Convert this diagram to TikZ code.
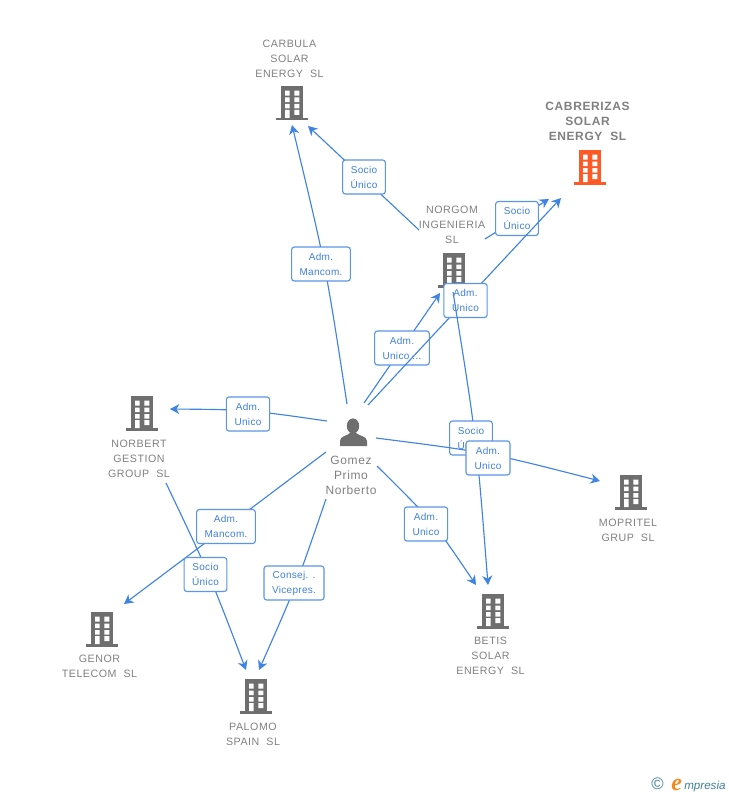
\documentclass[tikz,border=0pt]{standalone}
\usepackage{fontspec}
\setmainfont{Liberation Sans}
\newfontfamily\gl[LetterSpace=5]{Liberation Sans}
\newfontfamily\bl[LetterSpace=3]{Liberation Sans}
\newfontfamily\logoe{Liberation Serif}
\usetikzlibrary{arrows.meta}
\definecolor{linkblue}{HTML}{3F83E3}
\definecolor{boxblue}{HTML}{5A95E6}
\definecolor{txtblue}{HTML}{3F80DC}
\definecolor{graytxt}{HTML}{808080}
\definecolor{bldgray}{HTML}{6E6E6E}
\definecolor{bldorange}{HTML}{FF5A26}
\definecolor{logoteal}{HTML}{3F7F96}
\definecolor{logoorange}{HTML}{F08A1D}
\tikzset{
 x=0.75pt,y=-0.75pt,
 conn/.style={draw=linkblue,line width=0.85pt},
 tip/.style={conn,-{Stealth[length=7pt,width=7.5pt,inset=2.2pt]}},
 relbox/.style={draw=boxblue,line width=0.85pt,rounded corners=2pt,fill=white,
   text=txtblue,font=\bl\fontsize{7.5}{11.25}\selectfont,align=center,
   minimum height=25.5pt,inner sep=0pt},
 nlabel/.style={text=graytxt,font=\gl\fontsize{8}{11.25}\selectfont,align=center,inner sep=0pt},
 bldbody/.style={minimum width=16.5pt,minimum height=25pt,inner sep=0pt},
}
\newcommand{\bld}[4]{%
 \node[bldbody,fill=#4] (#1) at (#2,#3) {};
 \begin{scope}[shift={(#2,#3)}]
  \fill[#4] (-16,15) rectangle (15.5,17.5);
  \fill[white] (-7,-12.3) rectangle (-2.3,-7.3) (2.3,-12.3) rectangle (7.3,-7.3)
   (-7,-5.5) rectangle (-2.3,-0.8) (2.3,-5.5) rectangle (7.3,-0.8)
   (-7,1) rectangle (-2.3,5.5) (2.3,1) rectangle (7.3,5.5)
   (2.3,7) rectangle (7.3,12) (-7,7) rectangle (-2.3,15);
 \end{scope}}
\begin{document}
\begin{tikzpicture}
\useasboundingbox (0,0) rectangle (728,795);
% buildings and names
\bld{carbula}{292}{103}{bldgray}
\bld{cabr}{590}{167}{bldorange}
\bld{norgom}{454}{270}{bldgray}
\bld{norbert}{142}{413}{bldgray}
\bld{mopritel}{631}{492}{bldgray}
\bld{betis}{493}{611}{bldgray}
\bld{genor}{102}{629}{bldgray}
\bld{palomo}{256}{696}{bldgray}
\node[nlabel] (tcarbula) at (289.5,58.5) {CARBULA\\SOLAR\\ENERGY\ \ SL};
\node[nlabel,font=\gl\bfseries\fontsize{9}{11.25}\selectfont] (tcabr) at (587.5,121) {CABRERIZAS\\SOLAR\\ENERGY\ \ SL};
\node[nlabel] (tnorgom) at (452,225) {NORGOM\\INGENIERIA\\SL};
\node[nlabel] (tnorbert) at (139,458.5) {NORBERT\\GESTION\\GROUP\ \ SL};
\node[nlabel] (tmopritel) at (628,530) {MOPRITEL\\GRUP\ \ SL};
\node[nlabel] (tbetis) at (490.5,655.5) {BETIS\\SOLAR\\ENERGY\ \ SL};
\node[nlabel] (tgenor) at (99.5,666) {GENOR\\TELECOM\ \ SL};
\node[nlabel] (tpalomo) at (253,734) {PALOMO\\SPAIN\ \ SL};
% person
\fill[bldgray] (353,426) ellipse (6.2 and 7.6);
\fill[bldgray] (340,446) -- (340,441) .. controls (340,436) and (347,436) .. (350,433) -- (356,433) .. controls (359,436) and (367,436) .. (367,441) -- (367,446) -- cycle;
\node[nlabel,font=\gl\fontsize{9}{11.25}\selectfont] (person) at (351,475) {Gomez\\Primo\\Norberto};
% free ends
\coordinate (a1) at (347,404);
\coordinate (a2) at (364,403);
\coordinate (a3) at (368,405);
\coordinate (a6) at (327,421);
\coordinate (a7) at (326,452);
\coordinate (a8) at (326,499);
\coordinate (a10) at (377,466);
\coordinate (a11) at (376,438);
\coordinate (n4) at (485,239);
\coordinate (n5) at (419,230);
\coordinate (n9) at (166,483);
\coordinate (n12) at (453,292);
\coordinate (e1) at (292,125);
\coordinate (e2) at (440,293);
\coordinate (e3) at (561,198);
\coordinate (e4) at (549,199);
\coordinate (e5) at (308,126);
\coordinate (e6) at (170,409);
\coordinate (e7) at (124,604);
\coordinate (e8) at (259,670);
\coordinate (e9) at (246,670);
\coordinate (e10) at (476,585);
\coordinate (e11) at (600,481);
\coordinate (e12) at (488,585);
% connectors, each passing under its relation box
\draw[tip] (a1) .. controls (325.5,264) .. (e1);
\node[relbox,minimum width=44pt] (r1) at (321,264) {Adm.\\Mancom.};
\draw[tip] (n5) -- (e5);
\node[relbox,minimum width=32pt] (r5) at (364,177) {Socio\\Único};
\draw[tip] (n4) -- (e4);
\node[relbox,minimum width=32pt] (r4) at (517,218.5) {Socio\\Único};
\draw[tip] (a2) -- (e2);
\node[relbox,minimum width=41pt] (r2) at (402,348) {Adm.\\Unico ...};
\draw[tip] (a3) -- (e3);
\node[relbox,minimum width=32.5pt] (r3) at (465.5,300.5) {Adm.\\Unico};
\draw[tip] (a6) .. controls (248,409.7) .. (e6);
\node[relbox,minimum width=32.5pt] (r6) at (248,414) {Adm.\\Unico};
\draw[tip] (a7) -- (e7);
\node[relbox,minimum width=44pt] (r7) at (226,526.5) {Adm.\\Mancom.};
\draw[tip] (n9) .. controls (210,575.5) .. (e9);
\node[relbox,minimum width=32pt] (r9) at (205.5,574.5) {Socio\\Único};
\draw[tip] (a8) .. controls (296.5,585) .. (e8);
\node[relbox,minimum width=45pt] (r8) at (294,583) {Consej. .\\Vicepres.};
\draw[tip] (a10) .. controls (433.5,522) .. (e10);
\node[relbox,minimum width=32.5pt] (r10) at (426,524) {Adm.\\Unico};
\draw[tip] (n12) .. controls (476.5,438) .. (e12);
\node[relbox,minimum width=32pt] (r12) at (471,438) {Socio\\Único};
\draw[tip] (a11) .. controls (489.3,452.5) .. (e11);
\node[relbox,minimum width=33pt] (r11) at (488,458) {Adm.\\Unico};
% logo
\node[inner sep=0pt,text=logoteal,font=\fontsize{12.5}{12.5}\selectfont] (copy) at (657.5,783.5) {©};
\node[inner sep=0pt,anchor=base west,text=logoorange,font=\logoe\bfseries\itshape\fontsize{18}{18}\selectfont] (loge) at (671,790) {e};
\node[inner sep=0pt,anchor=base west,text=logoteal,font=\itshape\fontsize{8.7}{9}\selectfont] (logm) at (684,789) {mpresia};
\end{tikzpicture}
\end{document}
